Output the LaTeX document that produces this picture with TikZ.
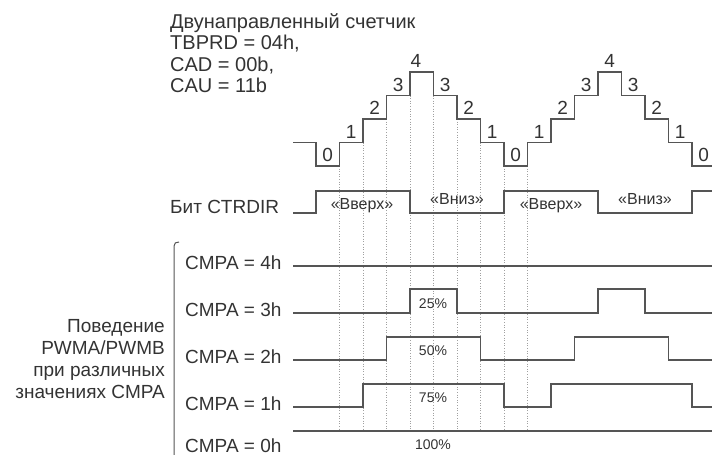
\documentclass[tikz,border=0pt]{standalone}
\usepackage{fontspec}
\setmainfont{Liberation Sans}
\definecolor{ln}{HTML}{555555}
\definecolor{tx}{HTML}{333333}
\definecolor{dt}{HTML}{A0A0A0}
\begin{document}
\begin{tikzpicture}[x=1pt,y=-1pt,
  sig/.style={draw=ln,line width=1.3pt,line join=miter},
  guide/.style={draw=dt,line width=0.6pt,dotted},
  titletxt/.style={text=tx,font=\fontsize{20}{22}\selectfont,inner sep=0pt,anchor=base west},
  lefttxt/.style={text=tx,font=\fontsize{19}{22}\selectfont,inner sep=0pt,anchor=base west},
  righttxt/.style={text=tx,font=\fontsize{19}{22}\selectfont,inner sep=0pt,anchor=base east},
  lvl/.style={text=tx,font=\fontsize{19}{22}\selectfont,inner sep=0pt,anchor=base},
  dirtxt/.style={text=tx,font=\fontsize{16}{18}\selectfont,inner sep=0pt,anchor=base},
  pct/.style={text=tx,font=\fontsize{14}{16}\selectfont,inner sep=0pt,anchor=base},
]
\useasboundingbox (0,0) rectangle (712,455);

% dotted guides
\foreach \gx/\gy [count=\i] in {339.5/166,363/142.5,386.5/119,410/95.5,433.5/95.5,457/119,480.5/142.5,504/166,527.5/166}{
  \coordinate (gt\i) at (\gx,\gy);
  \coordinate (gb\i) at (\gx,431);
  \draw[guide] (gt\i) -- (gb\i);
}

% title
\node[titletxt] (t1) at (170,28) {Двунаправленный счетчик};
\node[titletxt] (t2) at (170,49.5) {TBPRD = 04h,};
\node[titletxt] (t3) at (170,71) {CAD = 00b,};
\node[titletxt] (t4) at (170,92.5) {CAU = 11b};

% counter staircase
\draw[sig] (293,142.5) -| (316,166) -| (339.5,142.5) -| (363,119) -| (386.5,95.5)
  -| (410,72) -| (433.5,95.5) -| (457,119) -| (480.5,142.5) -| (504,166)
  -| (527.5,142.5) -| (551,119) -| (574.5,95.5) -| (598,72) -| (621.5,95.5)
  -| (645,119) -| (668.5,142.5) -| (692,166) -- (712,166);

\foreach \lx/\ly/\lt [count=\i] in {327.75/161.5/0,351.25/138/1,374.75/114.5/2,398.25/91/3,416/67.5/4,
  445.25/91/3,468.75/114.5/2,492.25/138/1,515.75/161.5/0,539.25/138/1,562.75/114.5/2,586.25/91/3,
  609.75/67.5/4,633.25/91/3,656.75/114.5/2,680.25/138/1,703.75/161.5/0}{
  \node[lvl] (c\i) at (\lx,\ly) {\lt};
}

% CTRDIR
\node[lefttxt] (dirlbl) at (170,213) {Бит CTRDIR};
\draw[sig] (293,213) -- (316,213) -- (316,191) -- (410,191) -- (410,213) -- (504,213)
  -- (504,191) -- (598,191) -- (598,213) -- (692,213) -- (692,191) -- (712,191);
\node[dirtxt] (up1) at (362,209) {«Вверх»};
\node[dirtxt] (dn1) at (457,204) {«Вниз»};
\node[dirtxt] (up2) at (551,209) {«Вверх»};
\node[dirtxt] (dn2) at (645,204) {«Вниз»};

% bracket and group label
\draw[ln,line width=1pt] (174,455) -- (174,246) .. controls (174,243) and (176,242) .. (179,242);
\node[righttxt] (g1) at (165,332) {Поведение};
\node[righttxt] (g2) at (165,354) {PWMA/PWMB};
\node[righttxt] (g3) at (165,376) {при различных};
\node[righttxt] (g4) at (165,398) {значениях CMPA};

% PWM rows
\node[lefttxt] (m4) at (185,269) {CMPA = 4h};
\node[lefttxt] (m3) at (185,316) {CMPA = 3h};
\node[lefttxt] (m2) at (185,363) {CMPA = 2h};
\node[lefttxt] (m1) at (185,410) {CMPA = 1h};
\node[lefttxt] (m0) at (185,452) {CMPA = 0h};

\draw[sig] (293,266) -- (712,266);
\draw[sig] (293,313) -- (410,313) -- (410,289) -- (457,289) -- (457,313) -- (598,313)
  -- (598,289) -- (645,289) -- (645,313) -- (712,313);
\draw[sig] (293,360) -- (386.5,360) -- (386.5,337) -- (480.5,337) -- (480.5,360) -- (574.5,360)
  -- (574.5,337) -- (668.5,337) -- (668.5,360) -- (712,360);
\draw[sig] (293,407) -- (363,407) -- (363,384) -- (504,384) -- (504,407) -- (551,407)
  -- (551,384) -- (692,384) -- (692,407) -- (712,407);
\draw[sig] (293,431) -- (712,431);

\node[pct] (p25) at (433,308) {25\%};
\node[pct] (p50) at (433,355) {50\%};
\node[pct] (p75) at (433,402) {75\%};
\node[pct] (p100) at (433,449) {100\%};
\end{tikzpicture}
\end{document}
